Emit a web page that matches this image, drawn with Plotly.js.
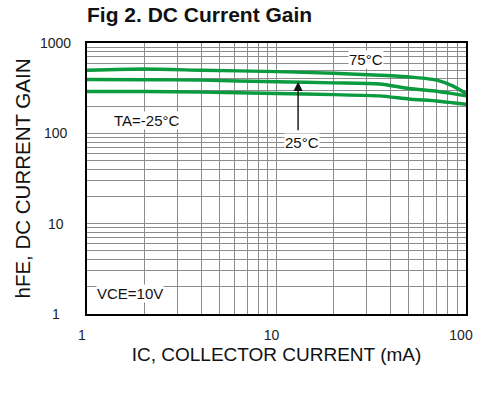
<!DOCTYPE html>
<html>
<head>
<meta charset="utf-8">
<script src="https://cdn.plot.ly/plotly-3.0.1.min.js"></script>
<style>html,body{margin:0;padding:0;background:#fff;}#chart{width:481px;height:393px;}</style>
</head>
<body>
<div id="chart"></div>
<script>
// Collector current (mA)
const icValues = [1, 2, 4, 10, 20, 35, 50, 70, 85, 100];
// DC current gain per ambient temperature
const hfe75 = [500, 515, 500, 482, 462, 440, 422, 388, 335, 276];
const hfe25 = [395, 392, 388, 372, 362, 352, 314, 292, 275, 260];
const hfeM25 = [291, 290, 286, 276, 268, 260, 240, 228, 218, 210];
const yTickVals = [1, 10, 100, 1000];
const yTickText = ['1', '10', '100', '1000'];
const xTickVals = [1, 10, 100];
const xTickText = ['1', '10', '100'];

const green = '#0a9a3f';
const font = 'Liberation Sans, Arial, sans-serif';

function line(y) {
  return {x: icValues, y: y, type: 'scatter', mode: 'lines',
    line: {color: green, width: 3.4, shape: 'spline', smoothing: 0.6},
    hoverinfo: 'skip', showlegend: false};
}

const data = [line(hfe75), line(hfe25), line(hfeM25)];

const annotations = yTickVals.map((v, i) => ({
  xref: 'paper', yref: 'y', x: -0.082, y: Math.log10(v),
  text: yTickText[i], showarrow: false, xanchor: 'center', yanchor: 'middle',
  font: {family: font, size: 14, color: '#222'}
}));

function label(txt, x, y, extra) {
  return Object.assign({xref: 'x', yref: 'y', x: Math.log10(x), y: Math.log10(y), text: txt,
    showarrow: false, bgcolor: '#ffffff', borderpad: 0,
    font: {family: font, size: 15, color: '#111'}}, extra || {});
}
annotations.push(label('75°C', 29.7, 660));
annotations.push(label('TA=-25°C', 2.05, 140));
annotations.push(label('VCE=10V', 1.68, 1.7));
annotations.push(label('25°C', 13.6, 80));
annotations.push({xref: 'x', yref: 'y', axref: 'x', ayref: 'y',
  x: Math.log10(13.0), y: Math.log10(372), ax: Math.log10(13.0), ay: Math.log10(104),
  showarrow: true, arrowhead: 2, arrowsize: 1.3, arrowwidth: 1.4, arrowcolor: '#111', text: '',
  standoff: 0});

const gridColor = '#8c8c8c';
const layout = {
  width: 481, height: 393,
  margin: {l: 87, r: 15, t: 43, b: 79},
  paper_bgcolor: '#ffffff', plot_bgcolor: '#ffffff',
  font: {family: font, color: '#222'},
  title: {text: '<b>Fig 2. DC Current Gain</b>', font: {family: font, size: 21, color: '#111'},
    xref: 'paper', x: 0, xanchor: 'left', yref: 'container', y: 0.962, yanchor: 'middle'},
  xaxis: {type: 'log', range: [0, 2], tickvals: xTickVals, ticktext: xTickText,
    showgrid: true, gridcolor: gridColor, gridwidth: 1,
    minor: {dtick: 'D1', showgrid: true, gridcolor: gridColor, gridwidth: 1, ticks: ''},
    showline: true, linecolor: '#000', linewidth: 2, mirror: true,
    ticks: 'outside', ticklen: 0, ticklabelstandoff: 7, ticklabelshift: -5, zeroline: false,
    tickfont: {family: font, size: 14, color: '#222'},
    title: {text: 'IC, COLLECTOR CURRENT (mA)', font: {family: font, size: 19, color: '#111'}, standoff: 6}},
  yaxis: {type: 'log', range: [0, 3], tickvals: yTickVals, showticklabels: false,
    showgrid: true, gridcolor: gridColor, gridwidth: 1,
    minor: {dtick: 'D1', showgrid: true, gridcolor: gridColor, gridwidth: 1, ticks: ''},
    showline: true, linecolor: '#000', linewidth: 2, mirror: true,
    ticks: '', zeroline: false,
    title: {text: 'hFE, DC CURRENT GAIN', font: {family: font, size: 20.5, color: '#111'}, standoff: 49}},
  annotations: annotations
};

Plotly.newPlot('chart', data, layout, {staticPlot: true, displayModeBar: false});
</script>
</body>
</html>
